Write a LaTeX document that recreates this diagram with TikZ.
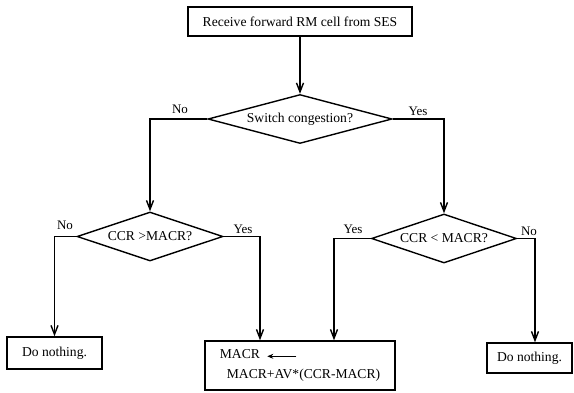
\documentclass[tikz,border=0pt]{standalone}
\usepackage{fontspec}
\setmainfont{Liberation Serif}
\usetikzlibrary{shapes.geometric,arrows.meta}
\begin{document}
\begin{tikzpicture}[x=1pt,y=-1pt,
  every node/.style={font=\fontsize{13.6}{20}\selectfont},
  box/.style={draw, line width=1.4pt, inner sep=0pt},
  dia/.style={draw, diamond, shape aspect=3.5, line width=1.4pt, inner sep=0pt},
  conn/.style={line width=1.4pt, -{Straight Barb[length=9pt,width=7pt]}},
  lab/.style={font=\fontsize{13}{15}\selectfont, inner sep=0pt}
]
\useasboundingbox (0,0) rectangle (574,392);

\node[box, minimum width=224pt, minimum height=29pt] (top) at (300,21.5) {Receive forward RM cell from SES};
\node[dia, minimum width=184pt, minimum height=49pt] (d1) at (300,119) {Switch congestion?};
\node[dia, minimum width=146pt, minimum height=49pt] (d2) at (150,236.5) {CCR >MACR?};
\node[dia, minimum width=145pt, minimum height=49pt] (d3) at (444,238.5) {CCR < MACR?};

\node[box, minimum width=95pt, minimum height=32pt] (n1) at (54.5,353) {Do nothing.};
\node[box, minimum width=85pt, minimum height=30pt] (n2) at (529.5,358) {Do nothing.};
\node[box, minimum width=190pt, minimum height=49pt, align=left] (macr) at (300,365.5) {MACR\\\hspace{7pt}MACR+AV*(CCR-MACR)};

\draw[conn] (top.south) -- (d1.north);
\draw[conn] (d1.west) -| (d2.north);
\draw[conn] (d1.east) -| (d3.north);
\draw[conn] (d2.west) -| (n1.north);
\draw[conn] (d2.east) -| ([xshift=-40pt]macr.north);
\draw[conn] (d3.west) -| ([xshift=34pt]macr.north);
\draw[conn] (d3.east) -| ([xshift=5.5pt]n2.north);

\draw[line width=1.4pt, -{Stealth[length=6pt,width=5pt]}] ([shift={(92pt,-16pt)}]macr.north west) -- ([shift={(63pt,-16pt)}]macr.north west);

\node[lab] (l1) at (180,109) {No};
\node[lab] (l2) at (418,111) {Yes};
\node[lab] (l3) at (65,225) {No};
\node[lab] (l4) at (243,229) {Yes};
\node[lab] (l5) at (353,229) {Yes};
\node[lab] (l6) at (529,231) {No};
\end{tikzpicture}
\end{document}
